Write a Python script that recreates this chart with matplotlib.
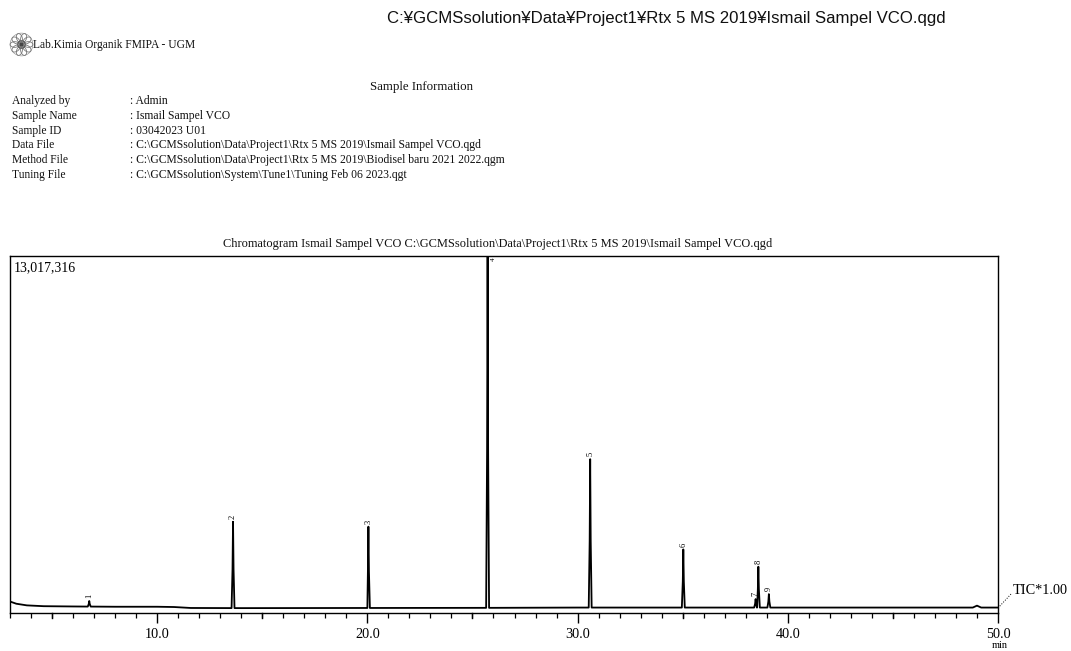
import numpy as np
import matplotlib
matplotlib.use("Agg")
import matplotlib.pyplot as plt
from matplotlib.patches import Circle, Ellipse
from matplotlib.ticker import MultipleLocator, FixedLocator

# ピーク情報（保持時間 [min]、強度 [counts]）
peak_ids = ["1", "2", "3", "4", "5", "6", "7", "8", "9"]
peak_rt = [6.77, 13.61, 20.05, 25.72, 30.60, 35.03, 38.47, 38.60, 39.10]
peak_height = [420000, 3310000, 3130000, 13017316, 5590000, 2300000, 490000, 1670000, 670000]

# ベースライン（目視で読み取った点）
base_t = [3.0, 3.3, 3.8, 4.6, 6.0, 8.0, 10.0, 10.8, 11.6, 14.0, 20.0, 26.0, 30.0, 40.0, 48.8, 49.0, 49.2, 50.0]
base_i = [400000, 320000, 260000, 230000, 220000, 210000, 210000, 200000, 165000, 160000, 165000, 170000, 180000, 180000, 180000, 250000, 180000, 180000]

y_max = 13017316
x_ticks = [10.0, 20.0, 30.0, 40.0, 50.0]

info_labels = ["Analyzed by", "Sample Name", "Sample ID", "Data File", "Method File", "Tuning File"]
info_values = [
    ": Admin",
    ": Ismail Sampel VCO",
    ": 03042023 U01",
    ": C:\\GCMSsolution\\Data\\Project1\\Rtx 5 MS 2019\\Ismail Sampel VCO.qgd",
    ": C:\\GCMSsolution\\Data\\Project1\\Rtx 5 MS 2019\\Biodisel baru 2021 2022.qgm",
    ": C:\\GCMSsolution\\System\\Tune1\\Tuning Feb 06 2023.qgt",
]

W, H = 1071, 651
SERIF = ["Liberation Serif", "DejaVu Serif"]
SANS = ["Liberation Sans", "DejaVu Sans"]


def px(x, y):
    return x / W, 1 - y / H


def build_trace(hw=0.07):
    """ベースラインとピークから折れ線を作る"""
    t = list(base_t)
    v = list(base_i)
    for rt, h in zip(peak_rt, peak_height):
        b = np.interp(rt, base_t, base_i)
        t += [rt - hw, rt - hw * 0.35, rt, rt + hw * 0.35, rt + hw]
        v += [b, b + (h - b) * 0.45, h, b + (h - b) * 0.45, b]
    order = np.argsort(t)
    return np.array(t)[order], np.array(v)[order]


fig = plt.figure(figsize=(W / 100, H / 100), dpi=100)
fig.patch.set_facecolor("white")

# ヘッダー
fig.text(*px(666, 18), "C:¥GCMSsolution¥Data¥Project1¥Rtx 5 MS 2019¥Ismail Sampel VCO.qgd",
         family=SANS, fontsize=12.1, ha="center", va="center", color="#111")

# ロゴ
lax = fig.add_axes([9 / W, 1 - 57 / H, 25 / W, 25 / H])
lax.set_xlim(-1.1, 1.1)
lax.set_ylim(-1.1, 1.1)
lax.set_aspect("equal")
lax.axis("off")
lax.add_patch(Circle((0, 0), 1.0, fill=False, ec="#999", lw=0.5))
for k in range(10):
    a = 2 * np.pi * k / 10
    lax.add_patch(Ellipse((0.6 * np.cos(a), 0.6 * np.sin(a)), 0.5, 0.8, angle=np.degrees(a) + 90,
                          fill=False, ec="#777", lw=0.6))
lax.add_patch(Circle((0, 0), 0.33, fill=False, ec="#555", lw=0.8))
lax.add_patch(Circle((0, 0), 0.12, color="#444"))

fig.text(*px(33, 45), "Lab.Kimia Organik FMIPA - UGM", family=SERIF, fontsize=8.3,
         ha="left", va="center", color="#111")
fig.text(*px(421, 87), "Sample Information", family=SERIF, fontsize=9.3,
         ha="center", va="center", color="#111")

for i, (lab, val) in enumerate(zip(info_labels, info_values)):
    y = 101 + i * 14.8
    fig.text(*px(12, y), lab, family=SERIF, fontsize=8.3, ha="left", va="center", color="#111")
    fig.text(*px(130, y), val, family=SERIF, fontsize=8.4, ha="left", va="center", color="#111")

# クロマトグラム
ax = fig.add_axes([10 / W, 1 - 612.5 / H, 988 / W, 357 / H])
t, v = build_trace()
ax.plot(t, v, color="black", lw=1.3, solid_joinstyle="round")
ax.set_xlim(3.0, 50.0)
ax.set_ylim(0, y_max)
ax.set_yticks([])

ax.xaxis.set_major_locator(FixedLocator(x_ticks))
ax.xaxis.set_minor_locator(MultipleLocator(1.0))
ax.set_xticklabels([f"{x:.1f}" for x in x_ticks], family=SERIF, fontsize=10.3)
ax.tick_params(axis="x", which="major", direction="out", length=7, width=1, pad=4)
ax.tick_params(axis="x", which="minor", direction="out", length=3.5, width=0.9)
for s in ax.spines.values():
    s.set_linewidth(1.0)
    s.set_color("black")

# 5分ごとの中間目盛り
for m in [5, 15, 25, 35, 45]:
    ax.plot([m, m], [0, -0.016 * y_max], color="black", lw=1, clip_on=False)

for pid, rt, h in zip(peak_ids, peak_rt, peak_height):
    if h >= y_max:
        # 最大ピークの番号は枠の内側に小さく置く
        ax.annotate(pid, (rt, h), xytext=(2, -1), textcoords="offset points", rotation=90,
                    ha="left", va="top", fontsize=5, family=SERIF)
    else:
        ax.annotate(pid, (rt, h), xytext=(0, 2), textcoords="offset points", rotation=90,
                    ha="center", va="bottom", fontsize=6, family=SERIF)

ax.text(0.004, 0.985, "13,017,316", transform=ax.transAxes, family=SERIF, fontsize=10,
        ha="left", va="top")

fig.text(*px(498, 244), "Chromatogram Ismail Sampel VCO C:\\GCMSsolution\\Data\\Project1\\Rtx 5 MS 2019\\Ismail Sampel VCO.qgd",
         family=SERIF, fontsize=8.9, ha="center", va="center", color="#111")

# TICラベル
fig.lines.append(plt.Line2D([998 / W, 1012 / W], [1 - 608 / H, 1 - 593 / H], transform=fig.transFigure,
                            color="black", lw=0.7, ls=":"))
fig.text(*px(1013, 590), "TIC*1.00", family=SERIF, fontsize=10.3, ha="left", va="center")
fig.text(*px(1000, 645), "min", family=SERIF, fontsize=7.5, ha="center", va="center")

fig.savefig("out.png", dpi=100, facecolor="white")
